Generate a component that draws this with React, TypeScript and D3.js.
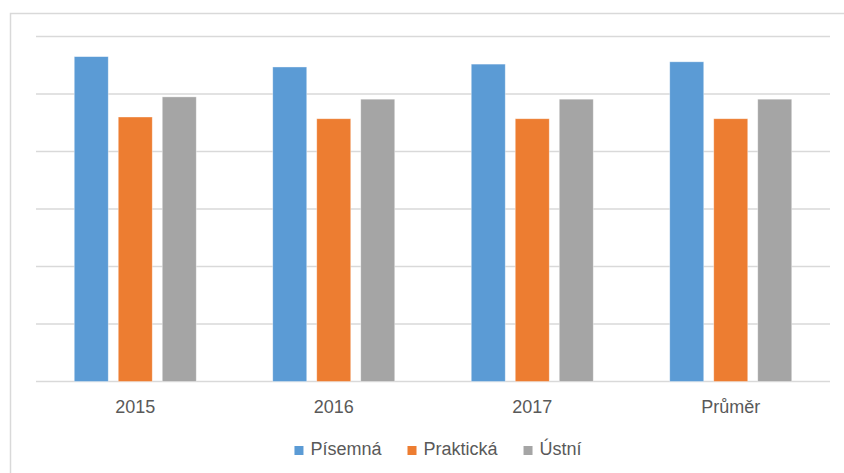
import React from "react";
import * as d3 from "d3";

const categories = ["2015", "2016", "2017", "Průměr"];
const seriesNames = ["Písemná", "Praktická", "Ústní"];
const pisemna = [5.65, 5.47, 5.52, 5.56];
const prakticka = [4.6, 4.57, 4.57, 4.57];
const ustni = [4.95, 4.91, 4.91, 4.91];
const yTicks = [0, 1, 2, 3, 4, 5, 6];
const colors = ["#5B9BD5", "#ED7D31", "#A5A5A5"];

const W = 844;
const H = 473;
const FONT = "'Liberation Sans', Arial, sans-serif";

function measure(text: string, size: number) {
  if (typeof document === "undefined") return text.length * size * 0.55;
  const c = document.createElement("canvas");
  const ctx = c.getContext("2d")!;
  ctx.font = `${size}px ${FONT}`;
  return ctx.measureText(text).width;
}

export default function App() {
  const values = [pisemna, prakticka, ustni];
  const x0 = d3.scaleBand<string>().domain(categories).range([36, 830]).padding(0);
  const x1 = d3
    .scaleBand<string>()
    .domain(seriesNames)
    .range([0, x0.bandwidth()])
    .paddingInner(0.227)
    .paddingOuter(0.869);
  const y = d3.scaleLinear().domain([0, 6]).range([381.5, 36.5]);

  // legend layout
  const sq = 9;
  const gapText = 7;
  const gapItem = 26;
  const fs = 18;
  const widths = seriesNames.map((s) => measure(s, fs));
  const total = widths.reduce((a, w) => a + sq + gapText + w, 0) + gapItem * (seriesNames.length - 1);
  let lx = 438 - total / 2;
  const legendItems = seriesNames.map((s, i) => {
    const item = { name: s, x: lx, color: colors[i] };
    lx += sq + gapText + widths[i] + gapItem;
    return item;
  });

  return (
    <svg
      width={W}
      height={H}
      style={{ position: "absolute", left: 0, top: 0, background: "#fff" }}
      fontFamily={FONT}
    >
      <rect x={0} y={0} width={W} height={H} fill="#fff" />
      <rect x={10.5} y={13.5} width={W + 20} height={H + 20} fill="none" stroke="#D9D9D9" strokeWidth={1.5} />
      {yTicks.map((t) => (
        <line key={t} x1={36} x2={830} y1={y(t)} y2={y(t)} stroke="#D9D9D9" strokeWidth={1.5} />
      ))}
      {categories.map((c, ci) => (
        <g key={c} transform={`translate(${x0(c)},0)`}>
          {seriesNames.map((s, si) => (
            <rect
              key={s}
              x={x1(s)}
              y={y(values[si][ci])}
              width={x1.bandwidth()}
              height={y(0) - y(values[si][ci])}
              fill={colors[si]}
              stroke="#fff"
              strokeOpacity={0.5}
              strokeWidth={0.75}
            />
          ))}
          <text
            x={x0.bandwidth() / 2}
            y={413}
            textAnchor="middle"
            fontSize={fs}
            fill="#595959"
          >
            {c}
          </text>
        </g>
      ))}
      {legendItems.map((it) => (
        <g key={it.name}>
          <rect x={it.x} y={446} width={sq} height={sq} fill={it.color} />
          <text x={it.x + sq + gapText} y={455} fontSize={fs} fill="#595959">
            {it.name}
          </text>
        </g>
      ))}
    </svg>
  );
}
